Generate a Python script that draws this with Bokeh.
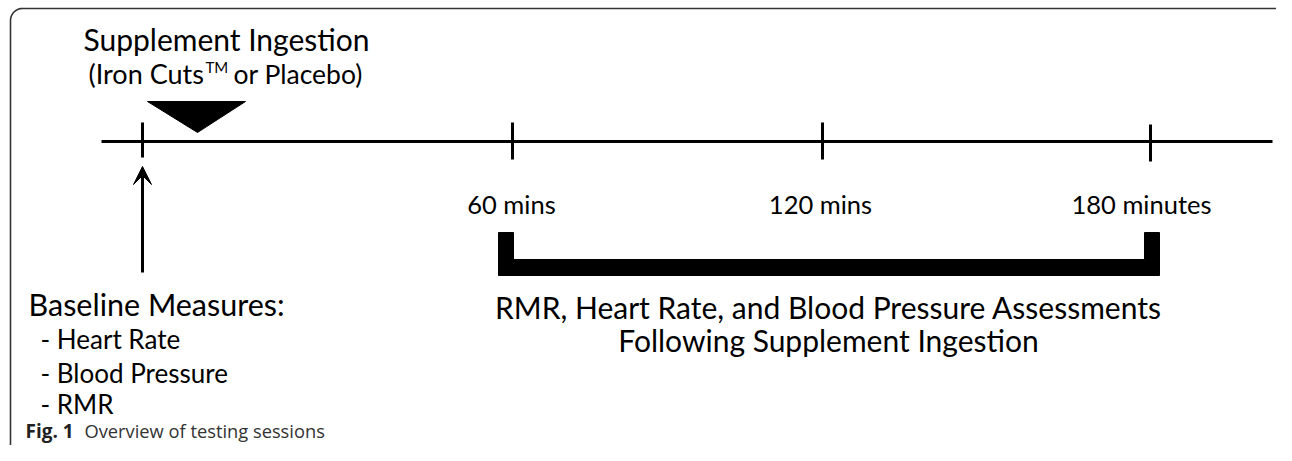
from bokeh.plotting import figure
from bokeh.models import Range1d, Arrow, VeeHead
from bokeh.core.properties import value
from bokeh.embed import file_html
from bokeh.resources import INLINE
import math

# ---- diagram content (positions in picture pixels) ----
timeline_x = [101, 1272]
timeline_y = 141
tick_x = [142, 512, 822, 1150]
tick_top = [122, 122, 122, 124]
tick_bottom = [157, 159, 159, 161]
tick_labels = ["", "60 mins", "120 mins", "180 minutes"]
tick_label_x = [142, 511, 820, 1141]
tick_label_y = 203

supp_title = "Supplement Ingestion"
supp_sub_a = "(Iron Cuts"
supp_sub_tm = "TM"
supp_sub_b = "or Placebo)"
tri_x = [147, 245, 197]
tri_y = [101, 101, 132]

baseline_title = "Baseline Measures:"
baseline_items = ["- Heart Rate", "- Blood Pressure", "- RMR"]
baseline_item_y = [338, 372, 403]

bracket_left = 498
bracket_right = 1159
bracket_top = 232
bracket_bottom = 275
bracket_w = 15
bracket_h = 16

assess_lines = ["RMR, Heart Rate, and Blood Pressure Assessments",
                "Following Supplement Ingestion"]
assess_y = [306, 339]

caption_bold = "Fig. 1"
caption_rest = "Overview of testing sessions"

FONT = "Lato"

p = figure(width=1276, height=445, x_range=Range1d(0, 1276), y_range=Range1d(445, 0),
           output_backend="svg", toolbar_location=None, min_border=0)
p.axis.visible = False
p.grid.visible = False
p.outline_line_color = None
p.background_fill_color = "white"
p.border_fill_color = "white"

# frame with rounded top-left corner
r = 12
fx, fy = [10, 10], [470, 8 + r]
for k in range(0, 11):
    a = math.pi + k * (math.pi / 2) / 10
    fx.append(10 + r + r * math.cos(a)); fy.append(8 + r + r * math.sin(a))
fx.append(1300); fy.append(8)
p.line(fx, fy, line_color="#333333", line_width=1.6)

# timeline
p.line(timeline_x, [timeline_y, timeline_y], line_color="black", line_width=3)
p.segment(x0=tick_x, y0=tick_top, x1=tick_x, y1=tick_bottom,
          line_color="black", line_width=3)
p.text(x=tick_label_x[1:], y=[tick_label_y] * 3, text=tick_labels[1:],
       text_font=value(FONT), text_font_size="25.5px", text_align="center",
       text_baseline="middle", text_color="black")

# supplement ingestion
p.text(x=[226], y=[38], text=[supp_title], text_font=value(FONT), text_font_size="30px",
       text_align="center", text_baseline="middle", text_color="black")
p.text(x=[88], y=[73], text=[supp_sub_a], text_font=value(FONT), text_font_size="27px",
       text_align="left", text_baseline="middle", text_color="black")
p.text(x=[205], y=[66], text=[supp_sub_tm], text_font=value(FONT), text_font_size="15px",
       text_align="left", text_baseline="middle", text_color="black")
p.text(x=[233], y=[73], text=[supp_sub_b], text_font=value(FONT), text_font_size="26.5px",
       text_align="left", text_baseline="middle", text_color="black")
p.patch(tri_x, tri_y, fill_color="black", line_color="black")

# baseline arrow
p.add_layout(Arrow(x_start=142, y_start=272, x_end=142, y_end=166, line_width=3,
                   end=VeeHead(size=18, fill_color="black", line_color="black", line_width=1)))
p.text(x=[28], y=[303], text=[baseline_title], text_font=value(FONT), text_font_size="30.5px",
       text_align="left", text_baseline="middle", text_color="black")
p.text(x=[40] * 3, y=baseline_item_y, text=baseline_items, text_font=value(FONT),
       text_font_size="26px", text_align="left", text_baseline="middle", text_color="black")

# bracket
bx = [bracket_left, bracket_left, bracket_right, bracket_right,
      bracket_right - bracket_w, bracket_right - bracket_w,
      bracket_left + bracket_w, bracket_left + bracket_w]
by = [bracket_top, bracket_bottom, bracket_bottom, bracket_top,
      bracket_top, bracket_bottom - bracket_h, bracket_bottom - bracket_h, bracket_top]
p.patch(bx, by, fill_color="black", line_color="black")
p.text(x=[828] * 2, y=assess_y, text=assess_lines, text_font=value(FONT),
       text_font_size="30px", text_align="center", text_baseline="middle", text_color="black")

# caption
p.text(x=[25], y=[430], text=[caption_bold], text_font=value("Open Sans"),
       text_font_size="19px", text_font_style="bold", text_align="left",
       text_baseline="middle", text_color="#222222")
p.text(x=[84], y=[430], text=[caption_rest], text_font=value("Open Sans"),
       text_font_size="18.3px", text_align="left", text_baseline="middle", text_color="#333333")

open("out.html", "w").write(file_html(p, INLINE))
